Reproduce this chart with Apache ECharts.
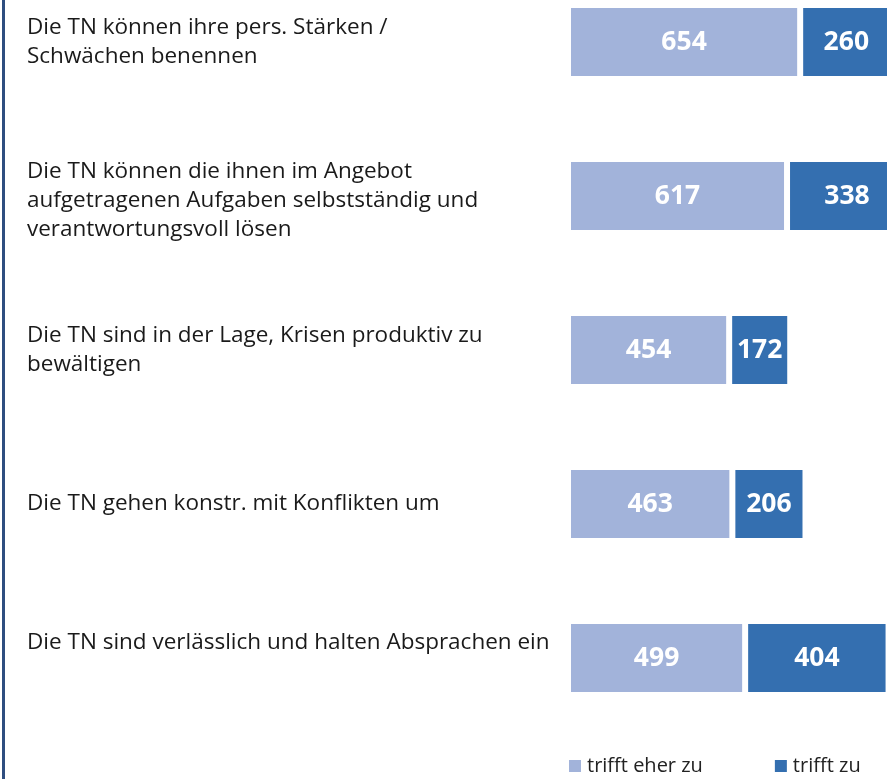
<!DOCTYPE html>
<html>
<head>
    <meta charset="utf-8">
    <title>Kompetenzen der TN</title>
    <script src="https://cdn.jsdelivr.net/npm/echarts@6/dist/echarts.min.js"></script>
    <style>
        html, body { margin: 0; padding: 0; background: #fff; }
        #chart1 { width: 887px; height: 779px; }
    </style>
</head>
<body>
<div id="chart1"></div>
<script type="text/javascript">
    // Kategorien (von oben nach unten)
    var categories = [
        'Die TN können ihre pers. Stärken /\nSchwächen benennen',
        'Die TN können die ihnen im Angebot\naufgetragenen Aufgaben selbstständig und\nverantwortungsvoll lösen',
        'Die TN sind in der Lage, Krisen produktiv zu\nbewältigen',
        'Die TN gehen konstr. mit Konflikten um',
        'Die TN sind verlässlich und halten Absprachen ein'
    ];
    var seriesNames = ['trifft eher zu', 'trifft zu'];
    var eherZu = [654, 617, 454, 463, 499];
    var trifftZu = [260, 338, 172, 206, 404];

    var lightBlue = '#A2B3DA';
    var darkBlue = '#346FB0';

    var myChart1 = echarts.init(document.getElementById('chart1'));

    var valueLabel = {
        show: true,
        position: 'inside',
        color: '#fff',
        fontWeight: 'bold',
        fontSize: 26.5,
        fontFamily: 'Open Sans'
    };

    var catText = {
        fontSize: 22.5,
        lineHeight: 29,
        color: '#1a1a1a',
        fontFamily: 'Open Sans'
    };

    myChart1.setOption({
        animation: false,
        textStyle: { fontFamily: 'Open Sans' },
        graphic: [{
            type: 'rect',
            shape: { x: 2, y: 0, width: 3, height: 779 },
            style: { fill: '#2F4E80' }
        }],
        legend: {
            data: seriesNames,
            left: 567,
            top: 756,
            padding: 0,
            itemWidth: 14,
            itemHeight: 14,
            itemGap: 70,
            icon: 'rect',
            textStyle: { fontSize: 20, color: '#222', fontFamily: 'Open Sans' }
        },
        grid: {
            left: 568,
            right: -36,
            top: -35,
            bottom: 44,
            outerBoundsMode: 'none',
            containLabel: false
        },
        xAxis: {
            type: 'value',
            min: 0,
            max: 1000,
            show: false
        },
        yAxis: {
            type: 'category',
            inverse: true,
            data: categories,
            axisLine: { show: false },
            axisTick: { show: false },
            axisLabel: Object.assign({
                align: 'left',
                margin: 541,
                formatter: function (value, idx) {
                    // kleine vertikale Korrekturen wie im Original
                    if (idx === 4) return '{up|' + value + '}';
                    if (idx === 1) return '{down|' + value + '}';
                    return value;
                },
                rich: {
                    up: Object.assign({ padding: [0, 0, 30, 0] }, catText),
                    down: Object.assign({ padding: [10, 0, 0, 0] }, catText)
                }
            }, catText)
        },
        series: [{
            name: seriesNames[0],
            type: 'bar',
            stack: 'total',
            barWidth: 74,
            data: eherZu,
            itemStyle: { color: lightBlue, borderColor: '#fff', borderWidth: 3 },
            label: valueLabel
        }, {
            name: seriesNames[1],
            type: 'bar',
            stack: 'total',
            barWidth: 74,
            data: trifftZu,
            itemStyle: { color: darkBlue, borderColor: '#fff', borderWidth: 3 },
            label: valueLabel
        }]
    });
</script>
</body>
</html>
